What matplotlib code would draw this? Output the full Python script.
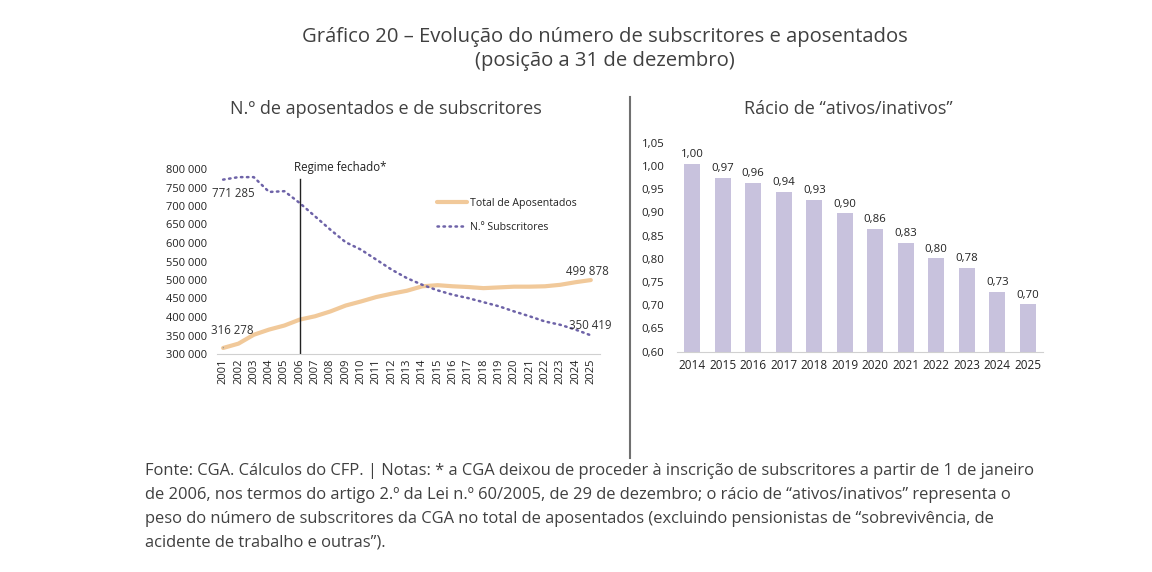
import numpy as np
import matplotlib.pyplot as plt
from matplotlib.ticker import FuncFormatter
from matplotlib.lines import Line2D

plt.rcParams['font.family'] = ['Open Sans', 'DejaVu Sans']

# Dados
anos = list(range(2001, 2026))
aposentados = [316278, 328000, 352000, 366000, 377000, 393000, 402000, 415000,
               431000, 442000, 454000, 463000, 471000, 483000, 486000, 483000,
               481000, 478000, 480000, 482000, 482000, 483000, 487000, 494000,
               499878]
subscritores = [771285, 778000, 778000, 738000, 740000, 708000, 672000, 636000,
                602000, 582000, 555000, 528000, 505000, 487000, 472000, 460000,
                451000, 440000, 429000, 415000, 402000, 388000, 379000, 366000,
                350419]
anos_racio = list(range(2014, 2026))
racio = [1.005, 0.975, 0.963, 0.944, 0.927, 0.898, 0.865, 0.835, 0.801, 0.781,
         0.729, 0.702]

TXT = '#404040'
W, H = 1152, 572


def box(x0, x1, ytop, ybot):
    return [x0 / W, 1 - ybot / H, (x1 - x0) / W, (ybot - ytop) / H]


def milhares(v):
    return f'{int(v):,}'.replace(',', ' ')


fig = plt.figure(figsize=(11.52, 5.72), dpi=100)

fig.text(605 / W, 1 - 37 / H, 'Gráfico 20 – Evolução do número de subscritores e aposentados',
         ha='center', va='center', fontsize=14.6, color=TXT)
fig.text(605 / W, 1 - 61 / H, '(posição a 31 de dezembro)',
         ha='center', va='center', fontsize=14.6, color=TXT)
fig.text(386 / W, 1 - 109 / H, 'N.º de aposentados e de subscritores',
         ha='center', va='center', fontsize=13, color=TXT)
fig.text(848 / W, 1 - 109 / H, 'Rácio de “ativos/inativos”',
         ha='center', va='center', fontsize=13, color=TXT)

# separador
fig.add_artist(Line2D([630 / W, 630 / W], [1 - 97 / H, 1 - 458 / H],
                      color='#707070', lw=1.5))

# --- grafico da esquerda ---
ax1 = fig.add_axes(box(217, 600, 169, 354))
x = np.arange(len(anos))
ax1.plot(x, aposentados, color='#F1C99A', lw=3, label='Total de Aposentados',
         solid_capstyle='round')
ax1.plot(x, subscritores, color='#6E63A8', lw=1.8, ls=(0, (0.6, 1.8)),
         dash_capstyle='round', label='N.º Subscritores')
ax1.set_xlim(-0.4, len(anos) - 0.4)
ax1.set_ylim(300000, 800000)
ax1.set_yticks(np.arange(300000, 800001, 50000))
ax1.yaxis.set_major_formatter(FuncFormatter(lambda v, p: milhares(v)))
ax1.set_xticks(x)
ax1.set_xticklabels([str(a) for a in anos], rotation=90)
ax1.tick_params(axis='both', length=0, labelsize=8, labelcolor='#222222')
ax1.tick_params(axis='y', pad=7)
ax1.tick_params(axis='x', pad=3)
for s in ['top', 'right', 'left']:
    ax1.spines[s].set_visible(False)
ax1.spines['bottom'].set_color('#D0D0D0')

i06 = anos.index(2006)
ax1.axvline(i06, ymin=0, ymax=0.946, color='#222222', lw=1)
ax1.text(i06 - 0.35, 805000, 'Regime fechado*', fontsize=8.3, color='#222222',
         ha='left', va='center')

ax1.text(-0.75, subscritores[0] - 36500, milhares(subscritores[0]),
         fontsize=8.3, color='#333333', ha='left', va='center')
ax1.annotate(milhares(aposentados[0]), xy=(0, aposentados[0]),
             xytext=(-0.8, 363000), fontsize=8.3, color='#333333', ha='left', va='center',
             arrowprops=dict(arrowstyle='-', color='#999999', lw=0.8,
                             shrinkA=6, shrinkB=1))
ax1.text(len(anos) - 2.6, aposentados[-1] + 23000, milhares(aposentados[-1]),
         fontsize=8.3, color='#333333', ha='left', va='center')
ax1.text(len(anos) - 2.4, subscritores[-1] + 27000, milhares(subscritores[-1]),
         fontsize=8.3, color='#333333', ha='left', va='center')

ax1.legend(loc='upper left', bbox_to_anchor=(0.55, 0.895), frameon=False, fontsize=7.6,
           handlelength=2.8, handletextpad=0.3, labelspacing=1.2, labelcolor='#222222')

# --- grafico da direita ---
ax2 = fig.add_axes(box(677, 1043, 142.7, 351.7))
xr = np.arange(len(anos_racio))
ax2.bar(xr, racio, width=0.52, color='#C8C2DD')
ax2.set_xlim(-0.5, len(anos_racio) - 0.5)
ax2.set_ylim(0.60, 1.05)
ax2.set_yticks(np.arange(0.60, 1.0501, 0.05))
ax2.yaxis.set_major_formatter(FuncFormatter(lambda v, p: f'{v:.2f}'.replace('.', ',')))
ax2.set_xticks(xr)
ax2.set_xticklabels([str(a) for a in anos_racio])
ax2.tick_params(axis='both', length=0, labelsize=8.2, labelcolor='#222222')
ax2.tick_params(axis='y', pad=9)
ax2.tick_params(axis='x', pad=5, labelsize=8.5)
for s in ['top', 'right', 'left']:
    ax2.spines[s].set_visible(False)
ax2.spines['bottom'].set_color('#D0D0D0')
for xi, v in zip(xr, racio):
    ax2.text(xi, v + 0.008, f'{v:.2f}'.replace('.', ','), ha='center', va='bottom',
             fontsize=8.2, color='#222222')

nota = ('Fonte: CGA. Cálculos do CFP. | Notas: * a CGA deixou de proceder à inscrição de subscritores a partir de 1 de janeiro\n'
        'de 2006, nos termos do artigo 2.º da Lei n.º 60/2005, de 29 de dezembro; o rácio de “ativos/inativos” representa o\n'
        'peso do número de subscritores da CGA no total de aposentados (excluindo pensionistas de “sobrevivência, de\n'
        'acidente de trabalho e outras”).')
fig.text(145 / W, 1 - 463 / H, nota, ha='left', va='top', fontsize=11.9, color=TXT,
         linespacing=1.66)

fig.savefig('out.png', dpi=100)
